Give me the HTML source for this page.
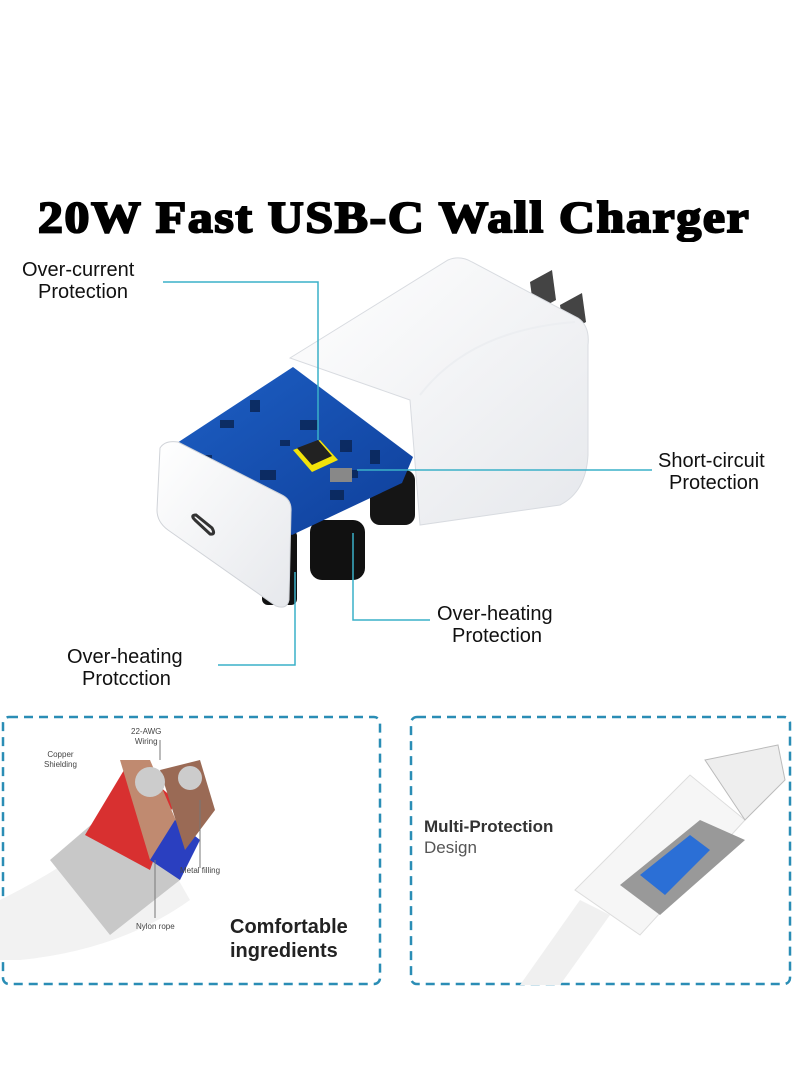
<!DOCTYPE html>
<html><head><meta charset="utf-8"><style>
html,body{margin:0;padding:0;background:#fff}
body{width:800px;height:1091px;position:relative;overflow:hidden;font-family:"Liberation Sans",sans-serif}
.t{position:absolute;white-space:nowrap;color:#111}
.lab{font-size:20px;line-height:22px}
</style></head><body>
<svg width="800" height="1091" style="position:absolute;left:0;top:0">
<defs>
<linearGradient id="wb" x1="0" y1="0" x2="1" y2="1"><stop offset="0" stop-color="#fff"/><stop offset="1" stop-color="#e6e8ec"/></linearGradient>
<linearGradient id="pcb" x1="0" y1="0" x2="1" y2="1"><stop offset="0" stop-color="#1d5fc4"/><stop offset="1" stop-color="#0f3f9a"/></linearGradient>
</defs>
<polygon points="530,282 552,270 556,300 534,312" fill="#444"/>
<polygon points="560,305 582,293 586,322 564,334" fill="#444"/>
<path d="M290,358 L448,260 Q460,255 472,262 L578,318 Q590,326 588,345 L588,455 Q586,492 560,505 L420,525 L410,400 Z" fill="url(#wb)" stroke="#d8dbe0"/>
<path d="M420,395 Q470,330 575,322" fill="none" stroke="#eceef1" stroke-width="2"/>
<rect x="310" y="520" width="55" height="60" rx="12" fill="#111"/>
<rect x="370" y="470" width="45" height="55" rx="10" fill="#151515"/>
<rect x="262" y="530" width="35" height="75" rx="6" fill="#111"/>
<polygon points="177,443 293,367 413,457 402,483 292,535 260,520" fill="url(#pcb)"/>
<g fill="#0a2350" opacity=".8">
<rect x="220" y="420" width="14" height="8"/><rect x="250" y="400" width="10" height="12"/><rect x="300" y="420" width="18" height="10"/><rect x="340" y="440" width="12" height="12"/><rect x="260" y="470" width="16" height="10"/><rect x="330" y="490" width="14" height="10"/><rect x="370" y="450" width="10" height="14"/><rect x="200" y="455" width="12" height="8"/><rect x="280" y="440" width="10" height="6"/><rect x="350" y="470" width="8" height="8"/>
</g>
<polygon points="293,450 320,440 338,460 312,472" fill="#f2e30a"/>
<polygon points="297,448 318,440 332,456 312,465" fill="#222"/>
<rect x="330" y="468" width="22" height="14" fill="#888"/>
<path d="M160,448 Q165,440 178,442 L282,495 Q292,500 291,512 L289,600 Q287,610 276,606 L168,530 Q157,522 157,510 Z" fill="url(#wb)" stroke="#d0d3d8"/>
<path d="M195,520 Q190,515 196,515 L212,528 Q216,535 210,534 Z" fill="none" stroke="#333" stroke-width="3"/>
<g stroke="#3ab0c8" stroke-width="1.5" fill="none">
<polyline points="163,282 318,282 318,440"/>
<polyline points="357,470 652,470"/>
<polyline points="353,533 353,620 430,620"/>
<polyline points="295,572 295,665 218,665"/>
</g>
<rect x="3" y="717" width="377" height="267" rx="6" fill="none" stroke="#2a8db5" stroke-width="2.5" stroke-dasharray="9,6"/>
<rect x="411" y="717" width="379" height="267" rx="6" fill="none" stroke="#2a8db5" stroke-width="2.5" stroke-dasharray="9,6"/>
<path d="M0,900 Q40,880 70,860 L150,830 L190,900 Q120,950 20,960 L0,960 Z" fill="#f2f2f2"/>
<polygon points="50,860 120,800 180,880 110,935" fill="#c8c8c8"/>
<polygon points="85,835 130,760 175,800 150,870" fill="#d83030"/>
<polygon points="120,760 150,760 180,830 150,860" fill="#c08a70"/>
<polygon points="150,860 175,820 200,840 180,880" fill="#2a3fc0"/>
<polygon points="160,770 200,760 215,810 185,850" fill="#9a6a55"/>
<circle cx="150" cy="782" r="15" fill="#ccc"/><circle cx="190" cy="778" r="12" fill="#ccc"/>
<g stroke="#777" stroke-width="1"><line x1="160" y1="740" x2="160" y2="760"/><line x1="200" y1="800" x2="200" y2="868"/><line x1="155" y1="860" x2="155" y2="918"/></g>
<path d="M520,985 L580,900 L610,915 L560,985 Z" fill="#f0f0f0"/>
<polygon points="575,890 690,775 745,820 640,935" fill="#f6f6f6" stroke="#ddd"/>
<polygon points="705,760 778,745 785,780 745,820" fill="#eee" stroke="#bbb"/>
<polygon points="620,885 700,820 745,840 660,915" fill="#999"/>
<polygon points="640,875 690,835 710,850 665,895" fill="#2b6fd6"/>
</svg>
<div class="t" style="left:38px;top:193px;font-family:'Liberation Serif',serif;font-weight:900;font-size:44px;letter-spacing:1.5px;line-height:50px;-webkit-text-stroke:2px #000;color:#000;transform:scaleX(1.13);transform-origin:0 0">20W Fast USB-C Wall Charger</div>
<div class="t lab" style="left:22px;top:259px">Over-current</div>
<div class="t lab" style="left:38px;top:281px">Protection</div>
<div class="t lab" style="left:658px;top:450px">Short-circuit</div>
<div class="t lab" style="left:669px;top:472px">Protection</div>
<div class="t lab" style="left:437px;top:603px">Over-heating</div>
<div class="t lab" style="left:452px;top:625px">Protection</div>
<div class="t lab" style="left:67px;top:646px">Over-heating</div>
<div class="t lab" style="left:82px;top:668px">Protcction</div>
<div class="t" style="left:44px;top:750px;font-size:8px;text-align:center;line-height:10px;color:#444">Copper<br>Shielding</div>
<div class="t" style="left:131px;top:727px;font-size:8px;text-align:center;line-height:10px;color:#444">22-AWG<br>Wiring</div>
<div class="t" style="left:180px;top:866px;font-size:8px;color:#444">Metal filling</div>
<div class="t" style="left:136px;top:922px;font-size:8px;color:#444">Nylon rope</div>
<div class="t" style="left:230px;top:915px;font-size:20px;font-weight:bold;line-height:24px;color:#222">Comfortable<br>ingredients</div>
<div class="t" style="left:424px;top:817px;font-size:17px;font-weight:bold;line-height:20px;color:#333">Multi-Protection</div>
<div class="t" style="left:424px;top:838px;font-size:17px;line-height:20px;color:#555">Design</div>
</body></html>
